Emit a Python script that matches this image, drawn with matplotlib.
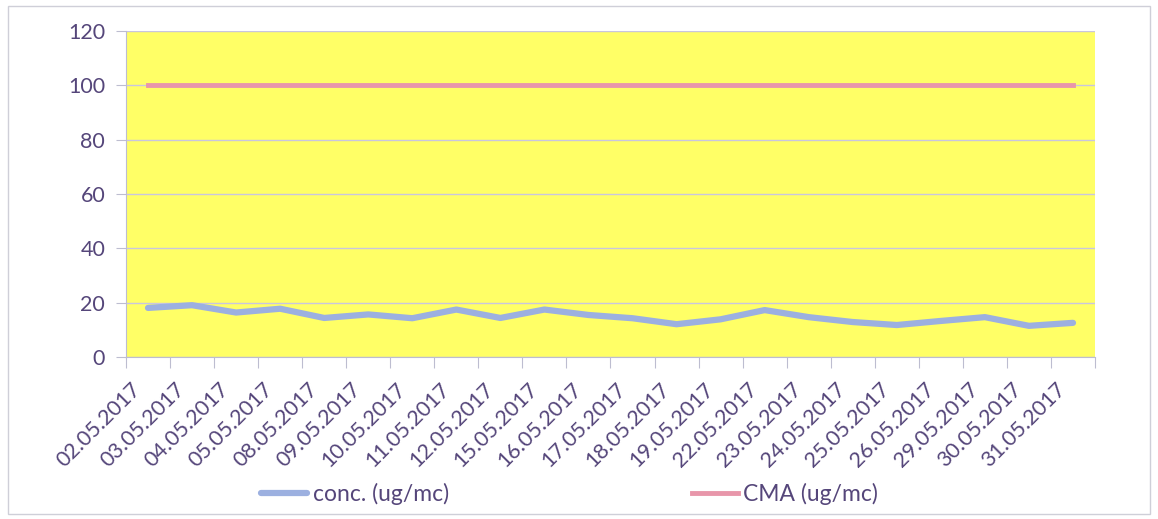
import matplotlib
matplotlib.use("Agg")
import matplotlib.pyplot as plt
import matplotlib.transforms as mtrans
from matplotlib.patches import Rectangle

dates = ["02.05.2017", "03.05.2017", "04.05.2017", "05.05.2017", "08.05.2017",
         "09.05.2017", "10.05.2017", "11.05.2017", "12.05.2017", "15.05.2017",
         "16.05.2017", "17.05.2017", "18.05.2017", "19.05.2017", "22.05.2017",
         "23.05.2017", "24.05.2017", "25.05.2017", "26.05.2017", "29.05.2017",
         "30.05.2017", "31.05.2017"]
conc = [18.1, 19.1, 16.4, 17.8, 14.4, 15.7, 14.3, 17.5, 14.4, 17.5, 15.5,
        14.3, 12.1, 13.9, 17.3, 14.7, 12.9, 11.8, 13.3, 14.7, 11.5, 12.6]
cma = [100] * len(dates)

plt.rcParams["font.family"] = ["Lato", "DejaVu Sans"]
text_col = "#55467a"

fig = plt.figure(figsize=(11.58, 5.19), dpi=100)
fig.patches.append(Rectangle((0.007, 0.01), 0.986, 0.978, transform=fig.transFigure,
                             fill=False, edgecolor="#cfcfd8", linewidth=1))
ax = fig.add_axes([0.1088, 0.312, 0.8368, 0.628])
ax.set_facecolor("#ffff66")

x = list(range(len(dates)))
ax.plot(x, conc, color="#9cb0e0", linewidth=4.5, label="conc. (ug/mc)", solid_capstyle="round")
ax.plot(x, cma, color="#e896aa", linewidth=3.5, label="CMA (ug/mc)")

ax.set_xlim(-0.5, len(dates) - 0.5)
ax.set_ylim(0, 120)
ax.set_yticks(range(0, 121, 20))
ax.yaxis.grid(True, color="#c9c6df", linewidth=1)
ax.set_axisbelow(True)

ax.set_xticks([i - 0.5 for i in range(len(dates) + 1)], minor=False)
ax.set_xticklabels([])
ax.set_xticks(x, minor=True)
ax.set_xticklabels(dates, minor=True, rotation=45, ha="right", va="top",
                   rotation_mode="anchor", fontsize=15.5, color=text_col)
ax.tick_params(axis="x", which="minor", length=0, pad=16)
ax.tick_params(axis="x", which="major", length=8, color="#bdbdd0", direction="out")
ax.tick_params(axis="y", length=7, color="#bdbdd0", labelsize=15.5, labelcolor=text_col, pad=8)

# nudge the rotated date labels left, like the original
shift = mtrans.ScaledTranslation(-0.17, 0, fig.dpi_scale_trans)
for lbl in ax.get_xticklabels(minor=True):
    lbl.set_transform(lbl.get_transform() + shift)

for s in ["top", "right"]:
    ax.spines[s].set_visible(False)
ax.spines["left"].set_color("#bdbdd0")
ax.spines["bottom"].set_color("#bdbdd0")

fig.legend(loc="lower center", bbox_to_anchor=(0.492, -0.012), ncol=2, frameon=False,
           fontsize=16.5, handlelength=2.0, handletextpad=0.25, columnspacing=10.6,
           labelcolor=text_col)

fig.savefig("out.png", dpi=100)
